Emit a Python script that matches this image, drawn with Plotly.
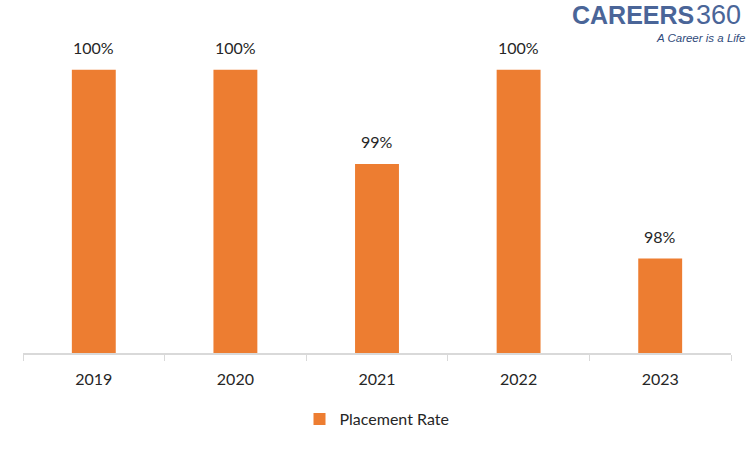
import plotly.graph_objects as go

years = ["2019", "2020", "2021", "2022", "2023"]
placement_rate = [100, 100, 99, 100, 98]
labels = ["100%", "100%", "99%", "100%", "98%"]
series_name = "Placement Rate"

ORANGE = "#ED7D31"
TEXT = "#262626"
LOGO = "#4A6598"
FONT = "Lato, 'Open Sans', sans-serif"

L, R, T, B = 23, 19, 30, 97
W, H = 750, 450
plot_w = W - L - R
plot_h = H - T - B

def px_to_paper(px, py):
    return (px - L) / plot_w, (H - B - py) / plot_h

fig = go.Figure()
fig.add_trace(go.Bar(
    x=years, y=placement_rate, name=series_name,
    marker=dict(color=ORANGE, line=dict(width=0)),
    showlegend=True,
))

for i, (v, t) in enumerate(zip(placement_rate, labels)):
    fig.add_annotation(x=i, y=v, text=t, showarrow=False, yanchor="bottom",
                       yshift=11, font=dict(family=FONT, size=16, color=TEXT))

# logo
cx, cy = px_to_paper(695, 15)
fig.add_annotation(xref="paper", yref="paper", x=cx, y=cy, text="<b>CAREERS</b>",
                   showarrow=False, xanchor="right", yanchor="middle", borderpad=0,
                   font=dict(family="'Liberation Sans', Arial", size=25, color=LOGO))
fig.add_annotation(xref="paper", yref="paper", x=cx, y=cy, text="360",
                   showarrow=False, xanchor="left", yanchor="middle", borderpad=0,
                   font=dict(family="'Liberation Sans', Arial", size=27, color=LOGO))
tx, ty = px_to_paper(746, 38)
fig.add_annotation(xref="paper", yref="paper", x=tx, y=ty, text="<i>A Career is a Life</i>",
                   showarrow=False, xanchor="right", yanchor="middle", borderpad=0,
                   font=dict(family="'Liberation Sans', Arial", size=11.5, color="#2F4A7A"))

fig.update_layout(
    width=W, height=H,
    margin=dict(l=L, r=R, t=T, b=B, autoexpand=False),
    paper_bgcolor="white", plot_bgcolor="white",
    bargap=0.69,
    font=dict(family=FONT, size=16, color=TEXT),
    legend=dict(orientation="h", x=0.5, xanchor="center",
                yref="container", y=1 - 419 / H, yanchor="middle",
                font=dict(family=FONT, size=16, color=TEXT), itemwidth=30),
    xaxis=dict(type="category", range=[-0.5, len(years) - 0.5], automargin=False,
               showline=True, linecolor="#D9D9D9", linewidth=1.5,
               ticks="outside", tickson="boundaries", tickcolor="#D9D9D9", ticklen=6,
               ticklabelstandoff=11,
               tickfont=dict(family=FONT, size=16, color=TEXT), showgrid=False),
    yaxis=dict(range=[97, 100.42], visible=False, showgrid=False),
)

fig.write_html("out.html", config={"displayModeBar": False},
               post_script="document.body.style.margin='0';")
